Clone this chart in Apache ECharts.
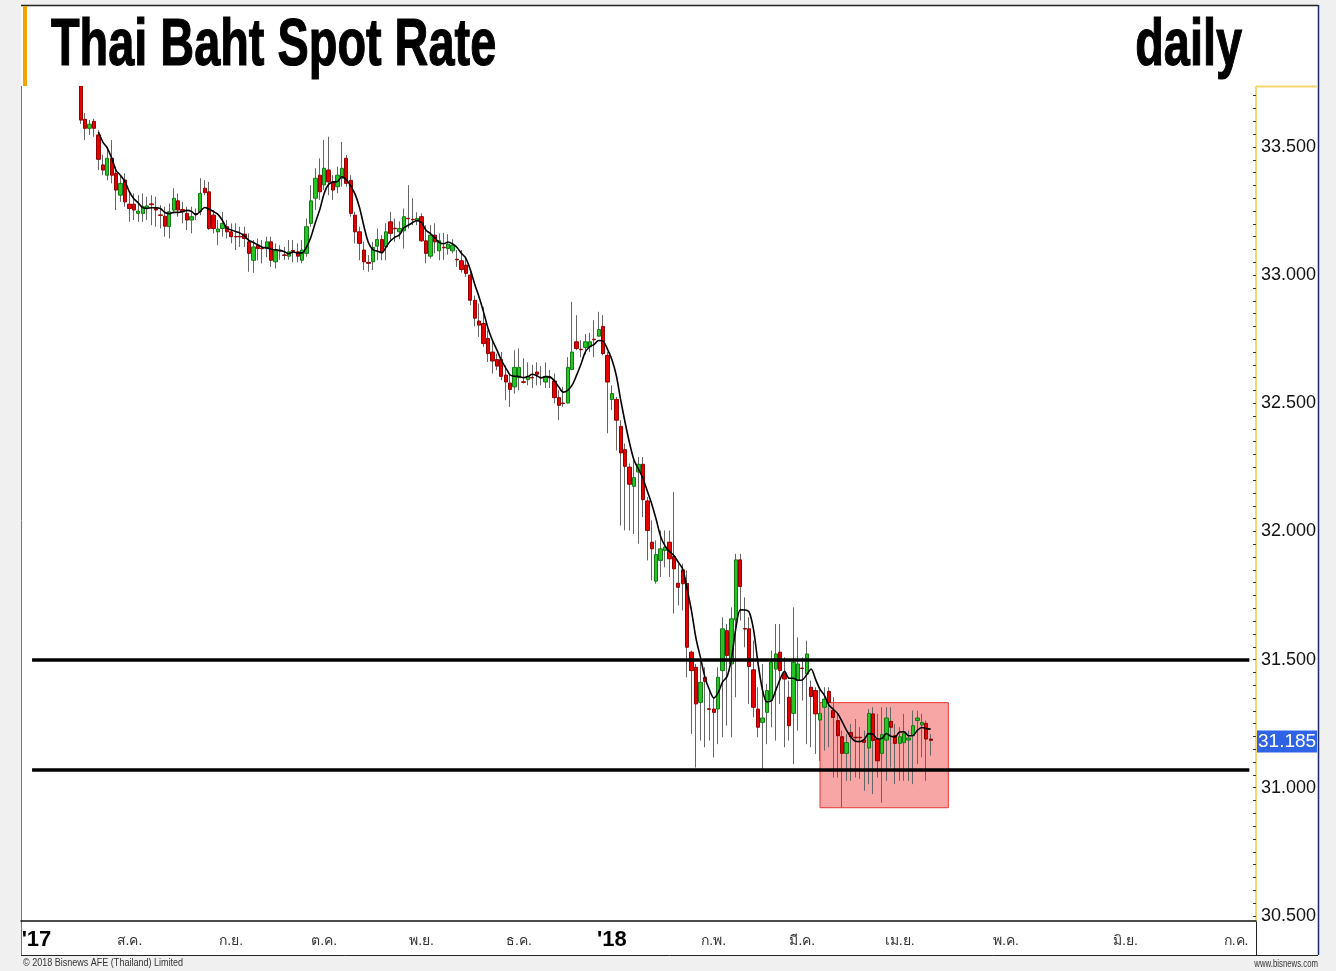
<!DOCTYPE html>
<html>
<head>
<meta charset="utf-8">
<title>Thai Baht Spot Rate</title>
<script src="https://cdn.jsdelivr.net/npm/echarts@6/dist/echarts.min.js"></script>
<style>
  html, body { margin: 0; padding: 0; background: #f0f0f0; }
  #chart { width: 1336px; height: 971px; }
</style>
</head>
<body>
<div id="chart"></div>
<script>
// trading-day slots along the x axis (one candle per slot)
const slotCount = 279;
const firstCandleSlot = 13;

// month ticks on the x axis: slot index and label
const monthSlots = [3, 24, 47, 68, 90, 112, 133, 156, 176, 198, 222, 249, 274];
const monthLabels = ["'17", 'ส.ค.', 'ก.ย.', 'ต.ค.', 'พ.ย.', 'ธ.ค.', "'18", 'ก.พ.', 'มี.ค.', 'เม.ย.', 'พ.ค.', 'มิ.ย.', 'ก.ค.'];

// y axis labels
const yLabels = [30.5, 31.0, 31.5, 32.0, 32.5, 33.0, 33.5];

// daily USD/THB candles
const opens = [
  33.80, 33.608, 33.573, 33.60, 33.547, 33.43, 33.39, 33.456, 33.397, 33.312,
  33.371, 33.277, 33.277, 33.241, 33.241, 33.263, 33.278, 33.26, 33.235, 33.23,
  33.189, 33.254, 33.29, 33.256, 33.241, 33.215, 33.24, 33.247, 33.339, 33.325,
  33.234, 33.169, 33.182, 33.189, 33.169, 33.151, 33.151, 33.16, 33.13, 33.058,
  33.117, 33.105, 33.104, 33.13, 33.052, 33.096, 33.079, 33.074, 33.096, 33.091,
  33.058, 33.085, 33.202, 33.30, 33.39, 33.352, 33.41, 33.364, 33.345, 33.378,
  33.456, 33.37, 33.234, 33.169, 33.098, 33.05, 33.052, 33.113, 33.139, 33.11,
  33.208, 33.183, 33.169, 33.173, 33.222, 33.218, 33.211, 33.228, 33.134, 33.074,
  33.156, 33.095, 33.109, 33.104, 33.095, 33.062, 33.056, 33.039, 33.0, 32.902,
  32.821, 32.811, 32.753, 32.70, 32.671, 32.671, 32.61, 32.579, 32.564, 32.60,
  32.584, 32.592, 32.601, 32.622, 32.601, 32.583, 32.601, 32.587, 32.522, 32.501,
  32.501, 32.632, 32.74, 32.711, 32.718, 32.72, 32.75, 32.762, 32.80, 32.687,
  32.515, 32.515, 32.41, 32.319, 32.251, 32.176, 32.232, 32.262, 32.119, 31.958,
  31.806, 31.887, 31.926, 31.958, 31.902, 31.798, 31.85, 31.797, 31.529, 31.47,
  31.333, 31.431, 31.308, 31.307, 31.307, 31.457, 31.613, 31.483, 31.655, 31.889,
  31.621, 31.62, 31.46, 31.307, 31.255, 31.294, 31.34, 31.463, 31.529, 31.444,
  31.353, 31.29, 31.418, 31.467, 31.444, 31.392, 31.379, 31.264, 31.314, 31.376,
  31.301, 31.262, 31.199, 31.134, 31.216, 31.197, 31.197, 31.186, 31.155, 31.288,
  31.19, 31.134, 31.186, 31.259, 31.203, 31.173, 31.176, 31.186, 31.203, 31.262,
  31.245, 31.251, 31.19
];
const closes = [
  33.605, 33.573, 33.589, 33.573, 33.452, 33.41, 33.456, 33.39, 33.332, 33.358,
  33.286, 33.26, 33.254, 33.25, 33.267, 33.27, 33.275, 33.254, 33.233, 33.191,
  33.247, 33.30, 33.254, 33.247, 33.215, 33.228, 33.236, 33.319, 33.322, 33.182,
  33.182, 33.18, 33.202, 33.169, 33.15, 33.149, 33.149, 33.143, 33.085, 33.11,
  33.104, 33.103, 33.13, 33.058, 33.098, 33.094, 33.077, 33.091, 33.094, 33.074,
  33.098, 33.189, 33.29, 33.378, 33.325, 33.417, 33.364, 33.332, 33.39, 33.417,
  33.358, 33.241, 33.169, 33.124, 33.052, 33.046, 33.108, 33.139, 33.091, 33.169,
  33.163, 33.181, 33.182, 33.228, 33.22, 33.216, 33.221, 33.134, 33.085, 33.156,
  33.13, 33.134, 33.107, 33.121, 33.117, 33.06, 33.022, 33.007, 32.902, 32.832,
  32.805, 32.733, 32.694, 32.665, 32.645, 32.605, 32.583, 32.554, 32.64, 32.64,
  32.582, 32.605, 32.599, 32.613, 32.599, 32.605, 32.599, 32.522, 32.492, 32.499,
  32.64, 32.70, 32.714, 32.709, 32.74, 32.74, 32.748, 32.788, 32.694, 32.583,
  32.538, 32.434, 32.306, 32.254, 32.184, 32.21, 32.262, 32.124, 32.004, 31.932,
  31.91, 31.932, 31.939, 31.893, 31.854, 31.782, 31.796, 31.548, 31.457, 31.327,
  31.411, 31.415, 31.306, 31.294, 31.431, 31.62, 31.516, 31.659, 31.889, 31.785,
  31.619, 31.473, 31.314, 31.236, 31.272, 31.379, 31.49, 31.522, 31.457, 31.424,
  31.242, 31.49, 31.483, 31.465, 31.522, 31.356, 31.288, 31.29, 31.346, 31.333,
  31.274, 31.203, 31.134, 31.176, 31.199, 31.195, 31.195, 31.177, 31.29, 31.184,
  31.105, 31.207, 31.272, 31.236, 31.173, 31.199, 31.212, 31.194, 31.242, 31.272,
  31.255, 31.19, 31.185
];
const lows = [
  33.59, 33.527, 33.547, 33.54, 33.41, 33.39, 33.37, 33.358, 33.254, 33.286,
  33.267, 33.208, 33.215, 33.208, 33.208, 33.215, 33.195, 33.189, 33.182, 33.15,
  33.143, 33.241, 33.228, 33.202, 33.176, 33.163, 33.215, 33.234, 33.312, 33.176,
  33.163, 33.117, 33.15, 33.143, 33.124, 33.098, 33.11, 33.11, 33.013, 33.009,
  33.058, 33.046, 33.07, 33.032, 33.026, 33.06, 33.06, 33.06, 33.05, 33.05,
  33.046, 33.072, 33.189, 33.254, 33.293, 33.332, 33.312, 33.293, 33.32, 33.345,
  33.345, 33.228, 33.124, 33.058, 33.02, 33.013, 33.02, 33.058, 33.058, 33.058,
  33.13, 33.13, 33.14, 33.104, 33.182, 33.195, 33.195, 33.13, 33.046, 33.065,
  33.085, 33.058, 33.06, 33.08, 33.085, 33.032, 33.01, 32.993, 32.883, 32.80,
  32.759, 32.72, 32.661, 32.616, 32.629, 32.59, 32.512, 32.486, 32.538, 32.551,
  32.577, 32.57, 32.56, 32.57, 32.57, 32.56, 32.56, 32.50, 32.434, 32.486,
  32.50, 32.629, 32.707, 32.68, 32.69, 32.70, 32.68, 32.759, 32.687, 32.383,
  32.473, 32.316, 32.023, 32.004, 32.004, 31.99, 31.952, 32.056, 31.887, 31.809,
  31.796, 31.822, 31.86, 31.822, 31.679, 31.711, 31.692, 31.431, 31.21, 31.079,
  31.184, 31.158, 31.184, 31.118, 31.17, 31.197, 31.242, 31.197, 31.353, 31.652,
  31.548, 31.327, 31.275, 31.197, 31.066, 31.17, 31.236, 31.184, 31.327, 31.158,
  31.184, 31.092, 31.223, 31.34, 31.17, 31.158, 31.132, 31.105, 31.145, 31.158,
  31.04, 31.04, 30.923, 31.027, 31.027, 31.04, 31.034, 30.988, 31.014, 30.975,
  31.04, 30.942, 31.027, 31.079, 31.014, 31.027, 31.027, 31.027, 31.014, 31.092,
  31.118, 31.027, 31.125
];
const highs = [
  33.86, 33.632, 33.605, 33.61, 33.566, 33.47, 33.50, 33.527, 33.423, 33.39,
  33.397, 33.319, 33.319, 33.312, 33.319, 33.306, 33.312, 33.306, 33.273, 33.267,
  33.28, 33.339, 33.319, 33.286, 33.267, 33.267, 33.26, 33.378, 33.371, 33.364,
  33.254, 33.215, 33.247, 33.215, 33.202, 33.202, 33.189, 33.189, 33.163, 33.137,
  33.143, 33.137, 33.15, 33.15, 33.124, 33.117, 33.11, 33.137, 33.137, 33.124,
  33.137, 33.221, 33.351, 33.417, 33.456, 33.527, 33.54, 33.39, 33.423, 33.52,
  33.469, 33.39, 33.247, 33.189, 33.13, 33.078, 33.13, 33.182, 33.156, 33.202,
  33.247, 33.221, 33.21, 33.26, 33.351, 33.30, 33.245, 33.241, 33.195, 33.195,
  33.202, 33.163, 33.165, 33.16, 33.14, 33.098, 33.098, 33.072, 33.02, 32.92,
  32.889, 32.876, 32.785, 32.746, 32.694, 32.70, 32.648, 32.616, 32.707, 32.714,
  32.675, 32.66, 32.65, 32.66, 32.645, 32.66, 32.63, 32.616, 32.551, 32.564,
  32.68, 32.896, 32.844, 32.746, 32.77, 32.775, 32.824, 32.857, 32.844, 32.70,
  32.57, 32.525, 32.434, 32.343, 32.265, 32.29, 32.29, 32.29, 32.134, 32.043,
  31.965, 32.004, 32.004, 32.004, 32.154, 31.874, 31.874, 31.848, 31.535, 31.483,
  31.496, 31.47, 31.379, 31.353, 31.47, 31.665, 31.639, 31.704, 31.913, 31.913,
  31.743, 31.665, 31.574, 31.392, 31.483, 31.405, 31.535, 31.639, 31.639, 31.509,
  31.418, 31.704, 31.587, 31.509, 31.574, 31.418, 31.392, 31.392, 31.392, 31.392,
  31.353, 31.288, 31.223, 31.21, 31.249, 31.268, 31.236, 31.223, 31.307, 31.314,
  31.288, 31.314, 31.314, 31.314, 31.249, 31.236, 31.288, 31.223, 31.301, 31.301,
  31.288, 31.262, 31.21
];

// support / resistance lines and the boxed range
const resistance = 31.5;
const support = 31.07;
const boxRange = { fromSlot: 180, toSlot: 209, top: 31.332, bottom: 30.922 };
const lastPrice = 31.185;

const slots = Array.from({ length: slotCount }, (_, i) => String(i));

const wickData = opens.map((o, i) => [firstCandleSlot + i, o, closes[i], lows[i], highs[i]]);
const bodyData = opens.map((o, i) => [
  firstCandleSlot + i, o, closes[i], Math.min(o, closes[i]), Math.max(o, closes[i])
]);

// 5-day moving average of the closes, as drawn on the source chart
const maData = closes.map((c, i) => {
  if (i < 4) return [firstCandleSlot + i, '-'];
  let s = 0;
  for (let k = i - 4; k <= i; k++) s += closes[k];
  return [firstCandleSlot + i, +(s / 5).toFixed(4)];
});

const yTicks = [];
for (let v = 30.5; v < 33.74; v += 0.05) yTicks.push(+v.toFixed(2));

const chart = echarts.init(document.getElementById('chart'));

const sans = "'Liberation Sans', Arial, sans-serif";

const option = {
  backgroundColor: '#f0f0f0',
  animation: false,
  graphic: [
    { type: 'rect', z: -10, shape: { x: 21, y: 5, width: 1297, height: 950 }, style: { fill: '#fff' } },
    // title strip covers anything drawn above the plot
    { type: 'rect', z: 100, shape: { x: 27, y: 6, width: 1290, height: 80 }, style: { fill: '#fff' } },
    { type: 'line', z: 101, shape: { x1: 21, y1: 5.5, x2: 1318, y2: 5.5 }, style: { stroke: '#222', lineWidth: 1.5 } },
    { type: 'line', z: 101, shape: { x1: 1318.5, y1: 5, x2: 1318.5, y2: 955 }, style: { stroke: '#1c2a6b', lineWidth: 1.5 } },
    { type: 'line', shape: { x1: 21.5, y1: 86, x2: 21.5, y2: 955 }, style: { stroke: '#777', lineWidth: 1 } },
    { type: 'rect', z: 101, shape: { x: 23, y: 6, width: 4, height: 80 }, style: { fill: '#f5a300' } },
    { type: 'line', z: 101, shape: { x1: 1256, y1: 86.5, x2: 1318, y2: 86.5 }, style: { stroke: '#f5d76e', lineWidth: 2 } },
    { type: 'line', shape: { x1: 21, y1: 955.5, x2: 1318, y2: 955.5 }, style: { stroke: '#222', lineWidth: 1 } },
    { type: 'line', shape: { x1: 1256.5, y1: 921, x2: 1256.5, y2: 955 }, style: { stroke: '#222', lineWidth: 1 } },
    {
      type: 'text', z: 102, x: 51, y: 47, scaleX: 0.71,
      style: {
        text: 'Thai Baht Spot Rate', font: 'bold 66px ' + sans, fill: '#000',
        stroke: '#000', lineWidth: 1.2, verticalAlign: 'middle'
      }
    },
    {
      type: 'text', z: 102, x: 1242, y: 47, scaleX: 0.71,
      style: {
        text: 'daily', font: 'bold 66px ' + sans, fill: '#000',
        stroke: '#000', lineWidth: 1.2, align: 'right', verticalAlign: 'middle'
      }
    },
    {
      type: 'text', x: 23, y: 963, scaleX: 0.82,
      style: { text: '© 2018 Bisnews AFE (Thailand) Limited', font: '11px ' + sans, fill: '#333', verticalAlign: 'middle' }
    },
    {
      type: 'text', x: 1318, y: 964, scaleX: 0.78,
      style: { text: 'www.bisnews.com', font: '10px ' + sans, fill: '#333', align: 'right', verticalAlign: 'middle' }
    }
  ],
  grid: {
    left: 21,
    right: 80,
    top: 86,
    bottom: 50
  },
  xAxis: {
    type: 'category',
    data: slots,
    boundaryGap: true,
    axisLine: { lineStyle: { color: '#111', width: 1.5 } },
    axisTick: {
      alignWithLabel: true,
      length: 4,
      interval: (i) => monthSlots.includes(i),
      lineStyle: { color: '#333' }
    },
    axisLabel: {
      interval: (i) => monthSlots.includes(i),
      margin: 8,
      formatter: (v) => {
        const k = monthSlots.indexOf(Number(v));
        if (k < 0) return '';
        const txt = monthLabels[k];
        return txt.charAt(0) === "'" ? '{yr|' + txt + '}' : '{m|' + txt + '}';
      },
      rich: {
        yr: { fontSize: 22, fontWeight: 'bold', fontFamily: sans, color: '#000' },
        m: { fontSize: 14, fontFamily: sans, color: '#333', padding: [5, 0, 0, 0] }
      }
    },
    splitLine: { show: false }
  },
  yAxis: {
    type: 'value',
    position: 'right',
    min: 30.48,
    max: 33.738,
    axisLine: { show: true, lineStyle: { color: '#f5d76e', width: 2 } },
    axisTick: { show: true, inside: true, length: 3, customValues: yTicks, lineStyle: { color: '#333' } },
    axisLabel: {
      customValues: yLabels,
      formatter: (v) => v.toFixed(3),
      fontSize: 18,
      fontFamily: sans,
      color: '#111',
      margin: 5
    },
    splitLine: { show: false }
  },
  series: [
    {
      name: 'wick',
      type: 'candlestick',
      data: wickData,
      encode: { x: 0, y: [1, 2, 3, 4] },
      barWidth: 1,
      clip: true,
      itemStyle: {
        color: '#666', color0: '#666',
        borderColor: '#666', borderColor0: '#666', borderWidth: 1
      },
      silent: true,
      z: 2
    },
    {
      name: 'USD/THB',
      type: 'candlestick',
      data: bodyData,
      encode: { x: 0, y: [1, 2, 3, 4] },
      barWidth: 3.8,
      clip: true,
      itemStyle: {
        color: '#26c526', color0: '#e60000',
        borderColor: '#137a13', borderColor0: '#8f0000', borderWidth: 1
      },
      markLine: {
        silent: true,
        symbol: 'none',
        data: [{ yAxis: lastPrice }],
        lineStyle: { color: 'rgba(0,0,0,0)', width: 0 },
        label: {
          show: true,
          position: 'end',
          distance: 1,
          formatter: () => lastPrice.toFixed(3),
          color: '#fff',
          backgroundColor: '#2f63e6',
          fontSize: 19,
          fontFamily: sans,
          padding: [2, 1, 1, 1]
        }
      },
      z: 3
    },
    {
      name: 'MA',
      type: 'line',
      data: maData,
      encode: { x: 0, y: 1 },
      smooth: 0.3,
      symbol: 'none',
      lineStyle: { color: '#000', width: 1.6 },
      markLine: {
        silent: true,
        symbol: 'none',
        label: { show: false },
        lineStyle: { color: '#000', width: 3.5, type: 'solid' },
        data: [
          [{ coord: [2, resistance] }, { coord: [277, resistance] }],
          [{ coord: [2, support] }, { coord: [277, support] }]
        ]
      },
      markArea: {
        silent: true,
        itemStyle: { color: 'rgba(242, 75, 75, 0.5)', borderColor: '#e53935', borderWidth: 1 },
        data: [[
          { coord: [boxRange.fromSlot, boxRange.top] },
          { coord: [boxRange.toSlot, boxRange.bottom] }
        ]]
      },
      z: 4
    }
  ]
};

chart.setOption(option);
window.addEventListener('resize', () => chart.resize());
</script>
</body>
</html>
